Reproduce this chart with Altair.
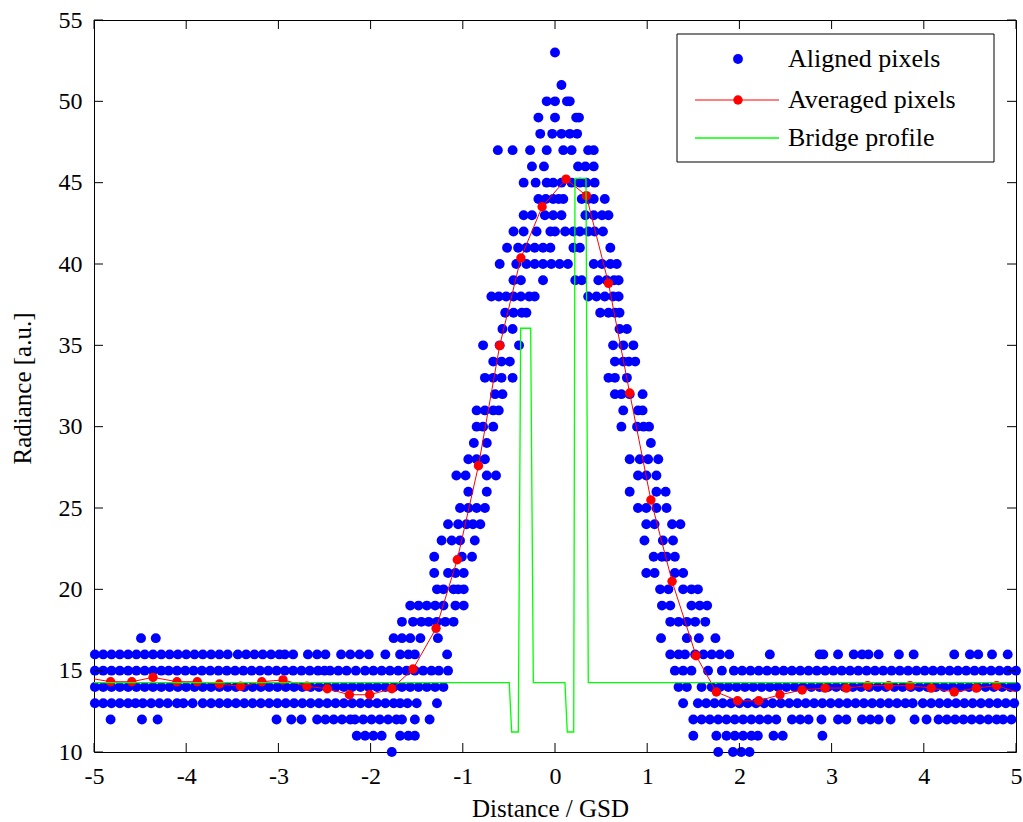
import altair as alt
import pandas as pd

# ---------------- data ----------------
# Aligned pixels: for each radiance row, the x positions (Distance / GSD) of the dots
aligned_rows = {
    10: [-1.77, 1.77, 1.93, 2.02, 2.11],
    11: [-2.15, -2.06, -1.97, -1.88, -1.68, -1.59, -1.52,
         1.50, 1.75, 1.86, 1.95, 2.04, 2.13, 2.20, 2.37, 2.47, 2.90],
    12: [-4.82, -4.48, -4.31, -3.02, -2.86, -2.75, -2.58, -2.49, -2.40, -2.31, -2.22, -2.17,
         -2.08, -1.99, -1.90, -1.81, -1.72, -1.66, -1.52, -1.36,
         1.50, 1.59, 1.68, 1.77, 1.86, 1.95, 2.04, 2.13, 2.22, 2.31, 2.40, 2.57, 2.66, 2.75,
         2.89, 3.07, 3.16, 3.33, 3.42, 3.51, 3.64, 3.90, 4.03, 4.16, 4.25, 4.34, 4.43, 4.52,
         4.61, 4.70, 4.79, 4.86, 4.95],
    13: [-4.99, -4.90, -4.81, -4.72, -4.63, -4.55, -4.47, -4.38, -4.29, -4.20, -4.10, -4.03,
         -3.93, -3.82, -3.73, -3.64, -3.55, -3.46, -3.37, -3.28, -3.19, -3.10, -3.01, -2.92,
         -2.83, -2.74, -2.65, -2.56, -2.47, -2.38, -2.29, -2.20, -2.11, -2.02, -1.93, -1.84,
         -1.75, -1.68, -1.60, -1.50, -1.28,
         1.39, 1.55, 1.64, 1.73, 1.82, 1.91, 2.00, 2.09, 2.18, 2.27, 2.36, 2.45, 2.54, 2.63,
         2.72, 2.81, 2.90, 2.99, 3.08, 3.17, 3.26, 3.35, 3.44, 3.53, 3.62, 3.71, 3.80, 3.88,
         3.99, 4.08, 4.17, 4.26, 4.35, 4.44, 4.53, 4.62, 4.71, 4.80, 4.89, 4.98],
    14: [-4.99, -4.90, -4.81, -4.72, -4.63, -4.54, -4.45, -4.36, -4.27, -4.18, -4.09, -4.00,
         -3.91, -3.82, -3.73, -3.64, -3.55, -3.46, -3.37, -3.28, -3.19, -3.10, -3.01, -2.92,
         -2.83, -2.74, -2.65, -2.56, -2.47, -2.38, -2.29, -2.20, -2.11, -2.02, -1.93, -1.84,
         -1.75, -1.66, -1.57, -1.48, -1.39, -1.30, -1.21,
         1.34, 1.43, 1.59, 1.70, 1.79, 1.88, 1.97, 2.06, 2.15, 2.24, 2.33, 2.42, 2.51, 2.60,
         2.69, 2.78, 2.87, 2.96, 3.05, 3.14, 3.23, 3.32, 3.41, 3.50, 3.59, 3.68, 3.77, 3.86,
         3.95, 4.04, 4.13, 4.22, 4.31, 4.40, 4.49, 4.58, 4.67, 4.76, 4.85, 4.94, 5.00],
    15: [-4.99, -4.90, -4.81, -4.72, -4.63, -4.54, -4.45, -4.36, -4.27, -4.19, -4.10, -4.01,
         -3.92, -3.83, -3.74, -3.65, -3.56, -3.47, -3.38, -3.29, -3.20, -3.11, -3.02, -2.93,
         -2.84, -2.75, -2.66, -2.57, -2.50, -2.44, -2.35, -2.26, -2.16, -2.06, -1.97, -1.88,
         -1.79, -1.70, -1.61, -1.52, -1.43, -1.34, -1.26, -1.16,
         1.30, 1.39, 1.48, 1.66, 1.81, 1.94, 2.03, 2.12, 2.21, 2.30, 2.39, 2.48, 2.57, 2.66,
         2.75, 2.84, 2.93, 3.02, 3.11, 3.20, 3.29, 3.38, 3.47, 3.56, 3.65, 3.74, 3.83, 3.92,
         4.01, 4.10, 4.19, 4.28, 4.37, 4.46, 4.55, 4.64, 4.73, 4.82, 4.91, 5.00],
    16: [-4.99, -4.90, -4.81, -4.72, -4.63, -4.54, -4.45, -4.36, -4.27, -4.18, -4.09, -4.00,
         -3.91, -3.82, -3.73, -3.64, -3.55, -3.44, -3.35, -3.26, -3.17, -3.08, -2.99, -2.93,
         -2.84, -2.68, -2.58, -2.49, -2.32, -2.22, -2.12, -2.02, -1.84, -1.68, -1.59, -1.52,
         -1.17,
         1.25, 1.34, 1.41, 1.52, 1.61, 1.70, 1.79, 1.89, 2.33, 2.87, 2.91, 3.07, 3.24, 3.33,
         3.40, 3.51, 3.73, 3.89, 4.33, 4.50, 4.59, 4.74, 4.91],
    17: [-4.49, -4.33, -1.75, -1.66, -1.57, -1.46, -1.27, 1.15, 1.43, 1.56, 1.74],
    18: [-1.66, -1.54, -1.45, -1.37, -1.28, -1.19, -1.10, 1.25, 1.34, 1.43, 1.52, 1.63],
    19: [-1.57, -1.48, -1.39, -1.30, -1.21, -1.08, -0.99, 1.16, 1.25, 1.48, 1.57, 1.65],
    20: [-1.28, -1.21, -1.10, -1.05, -0.99, 1.14, 1.23, 1.39, 1.48, 1.55],
    21: [-1.31, -1.16, -1.08, -0.99, 0.99, 1.08, 1.30, 1.39],
    22: [-1.31, -1.01, -0.90, 1.07, 1.16, 1.21, 1.30],
    23: [-1.23, -1.12, -1.03, -0.87, 0.97, 1.17, 1.28],
    24: [-1.16, -1.05, -0.96, -0.89, -0.81, 0.99, 1.08, 1.27, 1.36],
    25: [-1.03, -0.94, -0.85, -0.76, 0.90, 0.99, 1.10, 1.21],
    26: [-0.94, -0.74, 0.81, 1.10, 1.20],
    27: [-1.07, -0.97, -0.74, -0.64, 0.90, 0.99, 1.10],
    28: [-0.94, -0.85, -0.76, 0.81, 0.92, 1.01, 1.12],
    29: [-0.88, -0.74, 1.04],
    30: [-0.85, -0.78, -0.67, 0.72, 0.89, 0.96, 1.02],
    31: [-0.85, -0.76, -0.67, -0.61, 0.74, 0.90, 0.95],
    32: [-0.65, -0.57, 0.65, 0.72, 0.81, 0.95],
    33: [-0.76, -0.67, -0.58, -0.46, 0.58, 0.65, 0.78],
    34: [-0.67, -0.58, -0.49, 0.65, 0.74, 0.80, 0.87],
    35: [-0.78, -0.60, -0.39, 0.63, 0.74, 0.85],
    36: [-0.57, -0.46, 0.70, 0.78],
    37: [-0.54, -0.45, -0.36, -0.31, 0.49, 0.58, 0.65, 0.70],
    38: [-0.69, -0.61, -0.53, -0.45, -0.37, -0.28, -0.22, 0.36, 0.45, 0.54, 0.63, 0.69],
    39: [-0.45, -0.37, -0.13, 0.22, 0.29, 0.47, 0.56, 0.64, 0.69],
    40: [-0.60, -0.42, -0.31, -0.22, -0.13, -0.04, 0.05, 0.14, 0.42, 0.51, 0.60, 0.67],
    41: [-0.52, -0.40, -0.31, -0.22, -0.13, -0.05, 0.20, 0.27, 0.60],
    42: [-0.45, -0.34, -0.20, -0.05, 0.00, 0.11, 0.20, 0.27, 0.36, 0.43, 0.52],
    43: [-0.34, -0.25, -0.11, -0.02, 0.07, 0.33, 0.42, 0.51, 0.58],
    44: [-0.18, -0.10, -0.02, 0.04, 0.09, 0.29, 0.36, 0.42, 0.54],
    45: [-0.34, -0.21, -0.09, -0.02, 0.07, 0.18, 0.27, 0.34, 0.43],
    46: [-0.25, -0.12, 0.25, 0.33, 0.42],
    47: [-0.62, -0.46, -0.27, -0.09, 0.09, 0.18, 0.36, 0.42],
    48: [-0.16, -0.03, 0.07, 0.16, 0.24],
    49: [-0.18, 0.00, 0.23, 0.26],
    50: [-0.09, 0.00, 0.13, 0.16],
    51: [0.07],
    53: [0.00],
}

# Averaged pixels (first and last points lie just outside the axes and are clipped)
avg_x = [-5.05, -4.82, -4.59, -4.36, -4.10, -3.88, -3.64, -3.41, -3.18, -2.95, -2.69,
         -2.47, -2.23, -2.01, -1.77, -1.54, -1.29, -1.06, -0.83, -0.60, -0.37, -0.14,
         0.12, 0.34, 0.58, 0.81, 1.04, 1.27, 1.53, 1.75, 1.98, 2.21, 2.44, 2.68, 2.93,
         3.16, 3.39, 3.62, 3.85, 4.08, 4.33, 4.57, 4.79, 5.03]
avg_y = [14.54, 14.32, 14.32, 14.59, 14.32, 14.32, 14.18, 14.04, 14.32, 14.43, 14.04,
         13.89, 13.52, 13.52, 13.89, 15.10, 17.60, 21.82, 27.60, 34.98, 40.37, 43.52,
         45.22, 44.20, 38.81, 32.07, 25.49, 20.49, 15.92, 13.69, 13.15, 13.15, 13.52,
         13.81, 13.93, 13.93, 14.08, 14.08, 14.08, 13.93, 13.69, 13.93, 14.08, 13.65]

# Bridge profile
bridge_x = [-5.0, -0.496, -0.470, -0.398, -0.372, -0.264, -0.235, 0.108, 0.133, 0.203,
            0.217, 0.336, 0.361, 5.0]
bridge_y = [14.26, 14.26, 11.23, 11.23, 36.05, 36.05, 14.26, 14.26, 11.23, 11.23,
            45.27, 45.27, 14.26, 14.26]

x_ticks = [-5, -4, -3, -2, -1, 0, 1, 2, 3, 4, 5]
y_ticks = [10, 15, 20, 25, 30, 35, 40, 45, 50, 55]

legend_labels = ["Aligned pixels", "Averaged pixels", "Bridge profile"]

# ---------------- tables ----------------
aligned_df = pd.DataFrame(
    [{"x": xv, "y": yv} for yv, xs_ in aligned_rows.items() for xv in xs_]
)
avg_df = pd.DataFrame({"x": avg_x, "y": avg_y, "i": list(range(len(avg_x)))})
bridge_df = pd.DataFrame({"x": bridge_x, "y": bridge_y, "i": list(range(len(bridge_x)))})
xt_df = pd.DataFrame({"x": x_ticks})
yt_df = pd.DataFrame({"y": y_ticks})

W, H = 922, 732
FONT = "Liberation Serif"

xs = alt.Scale(domain=[-5, 5], nice=False, zero=False)
ys = alt.Scale(domain=[10, 55], nice=False, zero=False)

x_axis = alt.Axis(values=x_ticks, title="Distance / GSD", labelFlush=False,
                  labelOverlap=False, labelPadding=12, labelExpr="toString(datum.value)",
                  titleX=456, titleY=64, titleBaseline="alphabetic")
y_axis = alt.Axis(values=y_ticks, title="Radiance [a.u.]", labelFlush=False,
                  labelOverlap=False, labelPadding=12, labelExpr="toString(datum.value)",
                  titleX=-64, titleY=368, titleBaseline="alphabetic")

X = alt.X("x:Q", scale=xs, axis=x_axis)
Y = alt.Y("y:Q", scale=ys, axis=y_axis)

BLUE_SIZE = 98
RED_SIZE = 88

dots = alt.Chart(aligned_df).mark_circle(
    size=BLUE_SIZE, color="#0000ff", opacity=1, clip=False
).encode(x=X, y=Y)

bridge = alt.Chart(bridge_df).mark_line(
    color="#00ff00", strokeWidth=1.3, clip=True
).encode(x=X, y=Y, order="i:Q")

avg_line = alt.Chart(avg_df).mark_line(
    color="#ff0000", strokeWidth=1, clip=True
).encode(x=X, y=Y, order="i:Q")

avg_pts = alt.Chart(avg_df).transform_filter(
    "datum.x >= -5 && datum.x <= 5"
).mark_circle(size=RED_SIZE, color="#ff0000", opacity=1).encode(x=X, y=Y)

tick_len = 9
t_bottom = alt.Chart(xt_df).mark_rule(color="black", strokeWidth=1).encode(
    x=X, y=alt.value(H), y2=alt.value(H - tick_len))
t_top = alt.Chart(xt_df).mark_rule(color="black", strokeWidth=1).encode(
    x=X, y=alt.value(0), y2=alt.value(tick_len))
t_left = alt.Chart(yt_df).mark_rule(color="black", strokeWidth=1).encode(
    y=Y, x=alt.value(0), x2=alt.value(tick_len))
t_right = alt.Chart(yt_df).mark_rule(color="black", strokeWidth=1).encode(
    y=Y, x=alt.value(W), x2=alt.value(W - tick_len))

# ---------------- legend (inside, top right) ----------------
one = pd.DataFrame({"k": [0]})
leg_box = alt.Chart(one).mark_rect(fill="white", stroke="black", strokeWidth=1).encode(
    x=alt.value(583), x2=alt.value(900), y=alt.value(14), y2=alt.value(142))
leg_dot1 = alt.Chart(one).mark_circle(size=BLUE_SIZE, color="#0000ff", opacity=1).encode(
    x=alt.value(644), y=alt.value(39))
leg_line2 = alt.Chart(one).mark_rule(color="#ff0000", strokeWidth=1).encode(
    x=alt.value(601), x2=alt.value(685), y=alt.value(80))
leg_dot2 = alt.Chart(one).mark_circle(size=RED_SIZE, color="#ff0000", opacity=1).encode(
    x=alt.value(644), y=alt.value(80))
leg_line3 = alt.Chart(one).mark_rule(color="#00ff00", strokeWidth=1.3).encode(
    x=alt.value(601), x2=alt.value(685), y=alt.value(118))

leg_texts = []
for lab, yy in zip(legend_labels, [39, 80, 118]):
    leg_texts.append(
        alt.Chart(pd.DataFrame({"t": [lab]})).mark_text(
            align="left", baseline="middle", font=FONT, fontSize=26, color="black"
        ).encode(x=alt.value(694), y=alt.value(yy), text="t:N")
    )

chart = alt.layer(
    dots, avg_line, avg_pts, bridge,
    t_bottom, t_top, t_left, t_right,
    leg_box, leg_dot1, leg_line2, leg_dot2, leg_line3, *leg_texts
).properties(
    width=W, height=H,
    padding={"left": 94, "top": 20, "right": 7, "bottom": 70},
    autosize=alt.AutoSizeParams(type="none"),
    background="white",
).configure_axis(
    labelFont=FONT, labelFontSize=24, labelColor="black",
    titleFont=FONT, titleFontSize=25, titleFontWeight="normal", titleColor="black",
    ticks=False, tickSize=0, domain=False, grid=False,
).configure_view(stroke="black", strokeWidth=1)

chart.save("out.html", embed_options={"renderer": "svg", "actions": False})
